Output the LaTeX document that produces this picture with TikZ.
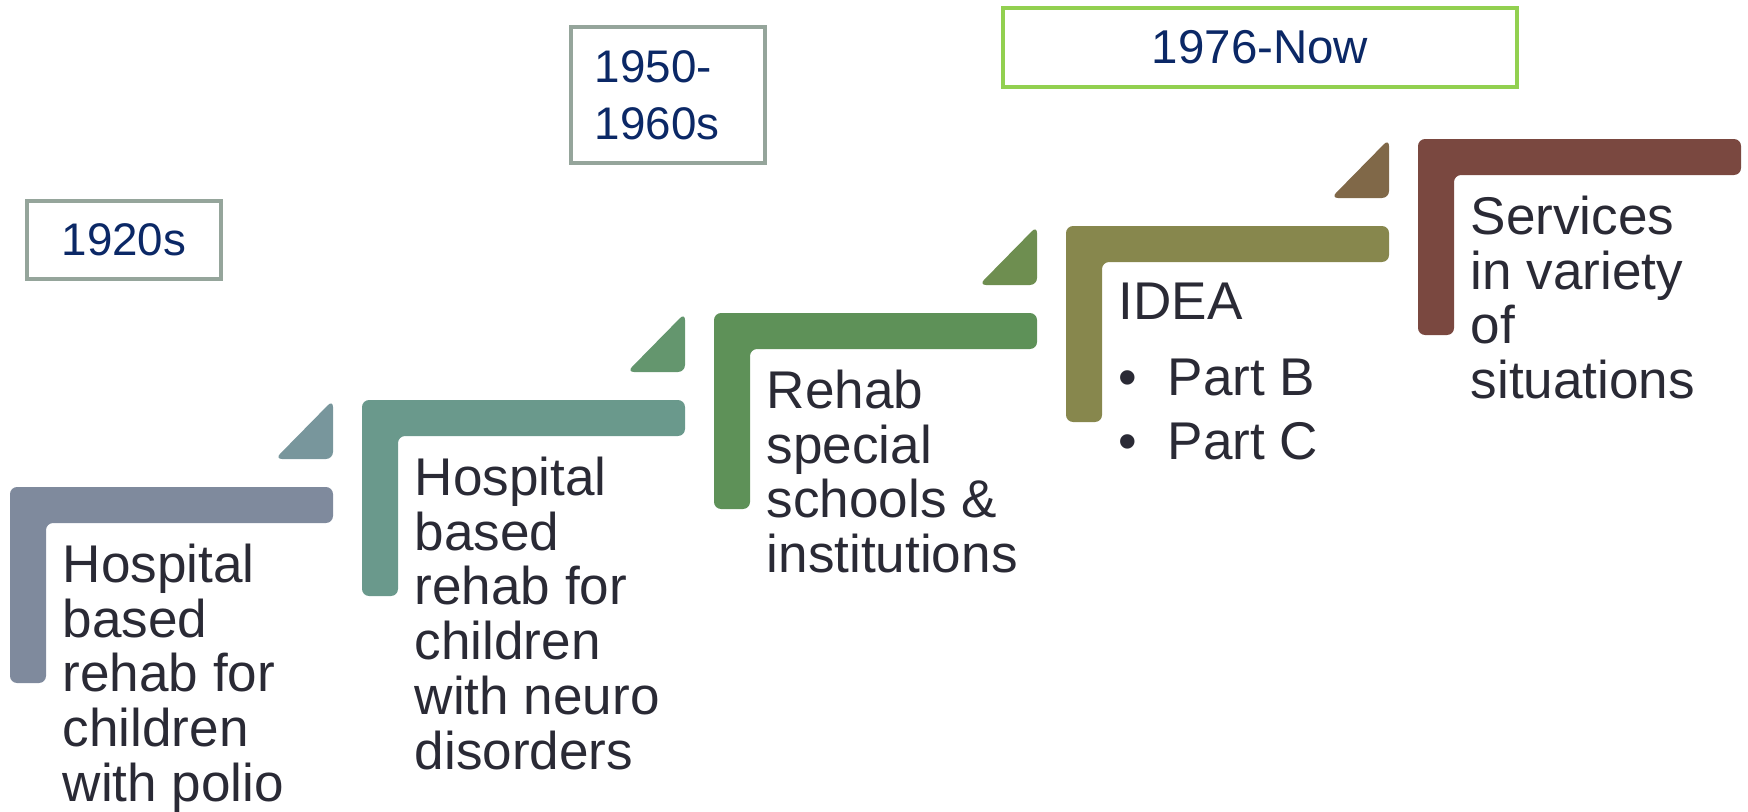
\documentclass[tikz,border=0pt]{standalone}
\usepackage{fontspec}
\setmainfont{Liberation Sans}
\usetikzlibrary{positioning}

\definecolor{stepa}{HTML}{7F8A9D}
\definecolor{stepb}{HTML}{6A998C}
\definecolor{stepc}{HTML}{5E9158}
\definecolor{stepd}{HTML}{87874D}
\definecolor{stepe}{HTML}{7A4840}
\definecolor{tipa}{HTML}{78969C}
\definecolor{tipb}{HTML}{64966E}
\definecolor{tipc}{HTML}{6E8E50}
\definecolor{tipd}{HTML}{806848}
\definecolor{bodytext}{HTML}{2A2A35}
\definecolor{datenavy}{HTML}{0B2866}
\definecolor{dategray}{HTML}{95A59B}
\definecolor{dategreen}{HTML}{92D050}

\begin{document}
\begin{tikzpicture}[x=0.01cm,y=-0.01cm,
  steptext/.style={inner sep=0pt,align=left,text=bodytext,
    font=\fontsize{15.1pt}{15.6pt}\selectfont},
  datebox/.style={draw=dategray,line width=0.95pt,text=datenavy,
    font=\fontsize{13pt}{16.2pt}\selectfont}]
\useasboundingbox (0,0) rectangle (1748,812);

% Define corners of the steps and draw them
\foreach \i/\col in {0/stepa,1/stepb,2/stepc,3/stepd,4/stepe} {
  \coordinate (s\i) at ({10+352*\i},{487-87*\i});
  \fill[\col,rounded corners=2] (s\i) -- ++(323,0) -- ++(0,36) -- ++(-287,0)
    -- ++(0,160) -- ++(-36,0) -- cycle;
}

% Small triangles leading to the next step
\foreach \i/\col in {0/tipa,1/tipb,2/tipc,3/tipd} {
  \fill[\col,rounded corners=2,shift={(s\i)}] (323,-87) -- (323,-28) -- (265,-28) -- cycle;
}

% Step texts
\node[steptext,below right=0.56cm and 0.52cm of s0] (t0)
  {Hospital\\based\\rehab for\\children\\with polio};
\node[steptext,below right=0.56cm and 0.52cm of s1] (t1)
  {Hospital\\based\\rehab for\\children\\with neuro\\disorders};
\node[steptext,below right=0.56cm and 0.52cm of s2] (t2)
  {Rehab\\special\\schools \&\\institutions};
\node[steptext,below right=0.56cm and 0.52cm of s3] (t3)
  {IDEA\\[6.2pt]\makebox[13.9pt][l]{\textbullet}Part B\\[2.4pt]\makebox[13.9pt][l]{\textbullet}Part C};
\node[steptext,below right=0.56cm and 0.52cm of s4] (t4)
  {Services\\in variety\\of\\situations};

% Date boxes
\node[datebox,minimum width=1.94cm,minimum height=0.78cm] (d1920) at (124,240) {1920s};
\node[datebox,align=left,text width=1.46cm,inner xsep=0.24cm,minimum height=1.36cm]
  (d1950) at (668,95) {1950-\\1960s};
\node[datebox,draw=dategreen,minimum width=5.14cm,minimum height=0.79cm,
  font=\fontsize{13.5pt}{16.2pt}\selectfont] (dnow) at (1260,47.5) {1976-Now};
\end{tikzpicture}
\end{document}
